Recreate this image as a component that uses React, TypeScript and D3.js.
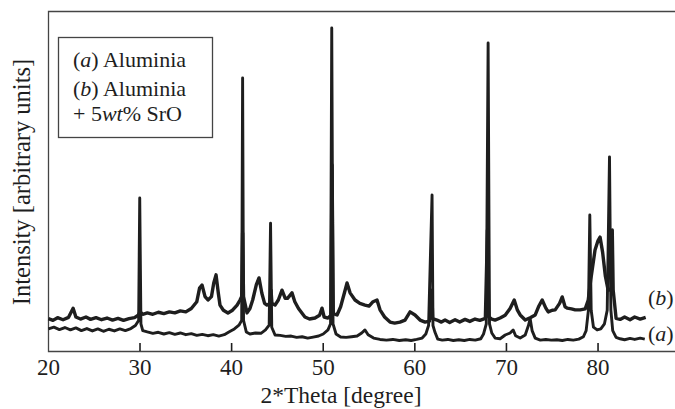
import React from "react";
import * as d3 from "d3";

const xTicks = [20, 30, 40, 50, 60, 70, 80];
const xTitle = "2*Theta [degree]";
const yTitle = "Intensity [arbitrary units]";

// Curve (b): Aluminia + 5wt% SrO  [2θ, intensity]
const thetaB = [20.0, 20.5, 21.0, 21.6, 22.2, 22.7, 23.0, 23.5, 24.1, 24.6, 25.2, 25.8, 26.4, 27.0, 27.6, 28.2, 28.8, 29.4, 29.8, 30.0, 30.3, 30.8, 31.4, 32.0, 32.6, 33.2, 33.8, 34.4, 35.0, 35.6, 36.2, 36.5, 36.77, 37.1, 37.42, 37.8, 38.05, 38.3, 38.55, 38.73, 39.1, 39.6, 40.1, 40.6, 40.92, 41.1, 41.2, 41.3, 41.68, 42.0, 42.3, 42.7, 42.99, 43.3, 43.6, 43.86, 44.2, 44.3, 44.4, 44.74, 45.1, 45.5, 45.85, 46.1, 46.59, 46.9, 47.3, 48.0, 48.5, 49.1, 49.6, 49.87, 50.1, 50.52, 50.85, 50.96, 51.1, 51.51, 51.9, 52.3, 52.6, 52.93, 53.47, 54.0, 54.56, 55.0, 55.44, 55.87, 56.2, 56.7, 57.29, 57.8, 58.38, 58.93, 59.48, 60.02, 60.57, 61.12, 61.6, 61.85, 61.95, 62.42, 62.9, 63.3, 63.8, 64.39, 64.9, 65.48, 66.0, 66.57, 67.1, 67.7, 67.93, 68.07, 68.4, 68.76, 69.31, 69.86, 70.4, 70.85, 71.2, 71.5, 72.05, 72.59, 73.14, 73.5, 73.9, 74.3, 74.56, 75.0, 75.32, 75.8, 76.09, 76.4, 76.63, 77.1, 77.51, 78.05, 78.6, 78.93, 79.2, 79.67, 80.0, 80.22, 80.5, 80.8, 81.1, 81.45, 81.55, 81.65, 81.97, 82.41, 82.9, 83.49, 84.0, 84.6, 85.2];
const intensityB = [9.5, 9.0, 9.8, 9.2, 9.9, 12.6, 10.0, 9.4, 10.0, 9.3, 9.8, 9.2, 9.7, 9.1, 9.6, 9.0, 9.5, 9.8, 10.5, 11.5, 10.8, 11.2, 10.8, 11.4, 11.0, 11.5, 11.2, 11.8, 11.5, 12.5, 14.5, 18.5, 19.4, 16.0, 15.0, 16.0, 20.0, 22.4, 17.0, 13.5, 12.0, 11.2, 12.0, 13.5, 15.0, 16.0, 34.7, 16.0, 11.2, 12.5, 15.0, 19.5, 21.5, 17.0, 14.0, 13.5, 14.0, 17.9, 14.0, 13.5, 15.0, 17.9, 15.5, 15.5, 17.1, 14.5, 12.5, 10.0, 9.4, 9.7, 10.5, 12.6, 10.0, 9.7, 10.5, 54.7, 11.0, 10.6, 13.0, 17.0, 20.0, 17.1, 15.0, 14.0, 13.5, 13.2, 14.5, 15.0, 12.1, 10.0, 8.5, 8.2, 8.5, 9.1, 11.5, 10.6, 9.1, 8.5, 8.8, 17.9, 9.5, 9.1, 8.5, 9.1, 8.4, 9.2, 8.5, 9.3, 8.7, 9.4, 9.0, 9.6, 35.6, 10.0, 9.4, 9.1, 9.7, 10.5, 12.5, 15.0, 12.0, 10.6, 9.1, 9.8, 10.6, 13.0, 15.0, 12.6, 11.5, 12.0, 12.1, 14.0, 15.9, 13.0, 12.6, 12.4, 12.1, 12.1, 12.4, 15.0, 20.9, 29.7, 32.5, 33.5, 29.0, 22.0, 17.9, 18.0, 35.6, 18.0, 9.6, 9.3, 10.0, 9.2, 10.0, 9.4, 9.9];

// Curve (a): Aluminia
const thetaA = [20.0, 20.6, 21.2, 21.8, 22.4, 23.0, 23.6, 24.2, 24.8, 25.4, 26.0, 26.6, 27.2, 27.8, 28.4, 29.0, 29.5, 29.85, 29.97, 30.1, 30.3, 30.8, 31.4, 32.0, 32.6, 33.2, 33.8, 34.4, 35.0, 35.6, 36.2, 36.8, 37.4, 38.0, 38.6, 39.2, 39.7, 40.3, 40.8, 41.1, 41.2, 41.3, 41.6, 42.0, 42.6, 43.2, 43.7, 44.1, 44.25, 44.38, 44.74, 45.3, 45.9, 46.5, 47.1, 47.7, 48.3, 48.9, 49.5, 50.0, 50.52, 50.8, 50.93, 51.07, 51.4, 51.9, 52.5, 53.1, 53.7, 54.2, 54.56, 54.9, 55.5, 56.2, 56.9, 57.6, 58.3, 59.0, 59.6, 60.2, 60.8, 61.2, 61.5, 61.88, 61.98, 62.2, 62.5, 63.0, 63.6, 64.2, 64.8, 65.4, 66.0, 66.6, 67.2, 67.5, 67.8, 68.0, 68.15, 68.4, 68.76, 69.31, 69.86, 70.4, 70.73, 71.0, 71.5, 72.05, 72.4, 72.59, 72.8, 73.14, 73.7, 74.3, 74.9, 75.5, 76.1, 76.7, 77.3, 77.9, 78.4, 78.7, 78.95, 79.1, 79.25, 79.5, 79.9, 80.3, 80.7, 81.0, 81.25, 81.4, 81.6, 81.97, 82.41, 82.9, 83.49, 84.0, 84.6, 85.1];
const intensityA = [6.5, 7.0, 6.3, 6.9, 6.2, 6.8, 6.0, 6.6, 5.9, 6.5, 5.8, 6.4, 5.9, 6.5, 6.0, 6.6, 7.5, 9.0, 45.0, 8.0, 6.0, 5.6, 5.2, 5.5, 5.0, 5.4, 4.9, 5.3, 4.8, 5.1, 4.6, 4.9, 4.5, 4.8, 4.4, 4.8, 5.6, 6.5, 7.6, 9.0, 80.3, 9.0, 5.6, 5.0, 5.3, 5.2, 6.2, 7.6, 37.6, 7.0, 4.7, 4.6, 4.3, 4.4, 4.0, 4.2, 3.8, 4.1, 4.4, 5.0, 6.2, 8.0, 95.0, 8.0, 5.0, 4.1, 4.0, 4.2, 4.4, 5.3, 6.2, 4.8, 3.8, 3.4, 3.2, 3.4, 3.1, 3.3, 3.1, 3.4, 3.8, 5.0, 7.5, 45.9, 7.5, 5.5, 3.5, 3.2, 3.4, 3.1, 3.3, 3.1, 3.4, 3.2, 3.6, 5.0, 8.0, 90.6, 8.0, 5.3, 3.8, 3.6, 4.7, 5.3, 6.2, 4.5, 3.8, 4.7, 7.5, 9.5, 6.0, 3.8, 3.2, 3.4, 3.2, 3.3, 3.1, 3.4, 3.2, 3.5, 4.2, 6.0, 12.0, 40.0, 12.0, 7.0, 6.2, 6.5, 8.0, 12.0, 57.1, 12.0, 6.0, 4.0, 3.6, 3.3, 3.7, 3.4, 3.8, 3.5];

const legendLines = ["Aluminia", "Aluminia", "SrO"];

export default function App() {
  const W = 675, H = 409;
  const x = d3.scaleLinear().domain([20, 88.4]).range([48.4, 675]);
  const y = d3.scaleLinear().domain([0, 100]).range([351, 11]);
  const line = d3.line<[number, number]>().x(d => x(d[0])).y(d => y(d[1]));
  const dataB: [number, number][] = thetaB.map((t, i) => [t, intensityB[i]]);
  const dataA: [number, number][] = thetaA.map((t, i) => [t, intensityA[i]]);
  const font = '"Liberation Serif", Tinos, "Times New Roman", Times, serif';
  const ink = "#1e1e1e";
  const ts = { fontFamily: font };
  return (
    <svg width={W} height={H} style={{ position: "absolute", left: 0, top: 0, background: "#fff", fontFamily: font }}>
      <rect x={0} y={0} width={W} height={H} fill="#fff" />
      {/* frame */}
      <path d={`M${W + 2},11.5 H48.5 V351.5 H${W + 2}`} fill="none" stroke="#444" strokeWidth={1.3} />
      {/* ticks */}
      {xTicks.filter(t => t > 20).map(t => (
        <line key={t} x1={x(t)} x2={x(t)} y1={351} y2={343} stroke={ink} strokeWidth={1.6} />
      ))}
      {xTicks.map(t => (
        <text key={"l" + t} style={ts} x={x(t)} y={375} textAnchor="middle" fontSize={23} fill={ink}>{t}</text>
      ))}
      <text style={ts} x={341} y={403} textAnchor="middle" fontSize={23.5} fill={ink}>{xTitle}</text>
      <text style={ts} transform="translate(30,182) rotate(-90)" textAnchor="middle" fontSize={24.5} fill={ink}>{yTitle}</text>
      {/* curves */}
      <path d={line(dataA) || ""} fill="none" stroke={ink} strokeWidth={2.9} strokeLinejoin="round" />
      <path d={line(dataB) || ""} fill="none" stroke={ink} strokeWidth={3.4} strokeLinejoin="round" />
      {/* legend */}
      <rect x={58.5} y={37.5} width={154} height={100} fill="#fff" stroke="#444" strokeWidth={1.3} />
      <text style={ts} x={73} y={67} fontSize={22} fill={ink}>(<tspan fontStyle="italic">a</tspan>) {legendLines[0]}</text>
      <text style={ts} x={73} y={96} fontSize={22} fill={ink}>(<tspan fontStyle="italic">b</tspan>) {legendLines[1]}</text>
      <text style={ts} x={73} y={121} fontSize={22} fill={ink}>+ 5<tspan fontStyle="italic">wt</tspan>% {legendLines[2]}</text>
      {/* curve labels */}
      <text style={ts} x={648} y={305} fontSize={22} fill={ink}>(<tspan fontStyle="italic">b</tspan>)</text>
      <text style={ts} x={648} y={341} fontSize={22} fill={ink}>(<tspan fontStyle="italic">a</tspan>)</text>
    </svg>
  );
}
